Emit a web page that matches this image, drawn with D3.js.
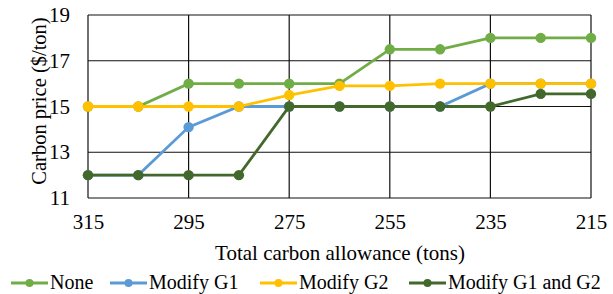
<!DOCTYPE html>
<html>
<head>
<meta charset="utf-8">
<script src="https://d3js.org/d3.v7.min.js"></script>
<style>
  body { margin: 0; background: #fff; }
</style>
</head>
<body>
<svg id="chart" width="613" height="294"></svg>
<script>
// data
const allowance = [315, 305, 295, 285, 275, 265, 255, 245, 235, 225, 215];
const none = [15, 15, 16, 16, 16, 16, 17.5, 17.5, 18, 18, 18];
const modifyG1 = [12, 12, 14.1, 15, 15, 15, 15, 15, 16, 16, 16];
const modifyG2 = [15, 15, 15, 15, 15.5, 15.9, 15.9, 16, 16, 16, 16];
const modifyG1G2 = [12, 12, 12, 12, 15, 15, 15, 15, 15, 15.55, 15.55];
const xTicks = [315, 295, 275, 255, 235, 215];
const yTicks = [11, 13, 15, 17, 19];

const series = [
    { name: 'None', values: none, color: '#70AD47' },
    { name: 'Modify G1', values: modifyG1, color: '#5B9BD5' },
    { name: 'Modify G2', values: modifyG2, color: '#FFC000' },
    { name: 'Modify G1 and G2', values: modifyG1G2, color: '#43682B' },
];

let config = {
    left: 88, right: 591, top: 15, bottom: 198,
    font: 21,
    family: 'Liberation Serif',
}

const svg = d3.select('#chart')
    .attr('font-family', config.family);

const x = d3.scaleLinear().domain([315, 215]).range([config.left, config.right]);
const y = d3.scaleLinear().domain([11, 19]).range([config.bottom, config.top]);

// grid
const grid = svg.append('g');
grid.selectAll('line.h').data(yTicks).enter().append('line')
    .attr('x1', config.left).attr('x2', config.right)
    .attr('y1', d => y(d)).attr('y2', d => y(d))
    .attr('stroke', '#111').attr('stroke-width', 1.2);
grid.selectAll('line.v').data(xTicks).enter().append('line')
    .attr('y1', config.top).attr('y2', config.bottom)
    .attr('x1', d => x(d)).attr('x2', d => x(d))
    .attr('stroke', '#111').attr('stroke-width', 1.2);

// axes (labels only)
const xAxis = svg.append('g')
    .attr('transform', 'translate(0,' + config.bottom + ')')
    .call(d3.axisBottom(x).tickValues(xTicks).tickSize(0).tickPadding(16.5));
const yAxis = svg.append('g')
    .attr('transform', 'translate(' + config.left + ',0)')
    .call(d3.axisLeft(y).tickValues(yTicks).tickSize(0).tickPadding(18));
[xAxis, yAxis].forEach(a => {
    a.attr('font-family', config.family).attr('font-size', config.font);
    a.select('.domain').remove();
    a.selectAll('text').attr('fill', '#000');
});

// lines
const line = d3.line()
    .x((d, i) => x(allowance[i]))
    .y(d => y(d));

series.forEach(s => {
    const g = svg.append('g');
    g.append('path')
        .datum(s.values)
        .attr('d', line)
        .attr('fill', 'none')
        .attr('stroke', s.color)
        .attr('stroke-width', 2.8);
    g.selectAll('circle').data(s.values).enter().append('circle')
        .attr('cx', (d, i) => x(allowance[i]))
        .attr('cy', d => y(d))
        .attr('r', 5.2)
        .attr('fill', s.color);
});

// axis titles
svg.append('text')
    .attr('x', 340).attr('y', 260)
    .attr('text-anchor', 'middle')
    .attr('font-size', 21)
    .text('Total carbon allowance (tons)');
svg.append('text')
    .attr('transform', 'translate(46,101) rotate(-90)')
    .attr('text-anchor', 'middle')
    .attr('font-size', 20.5)
    .text('Carbon price ($/ton)');

// legend
const legendX = [11, 110, 260, 409];
const legend = svg.append('g').attr('transform', 'translate(0,283)');
const items = legend.selectAll('g').data(series).enter().append('g')
    .attr('transform', (d, i) => 'translate(' + legendX[i] + ',0)');
items.append('line')
    .attr('x1', 0).attr('x2', 37)
    .attr('stroke', d => d.color).attr('stroke-width', 2.8);
items.append('circle')
    .attr('cx', 18.5).attr('r', 4)
    .attr('fill', d => d.color);
items.append('text')
    .attr('x', 39).attr('y', 6)
    .attr('font-size', 20)
    .text(d => d.name);
</script>
</body>
</html>
